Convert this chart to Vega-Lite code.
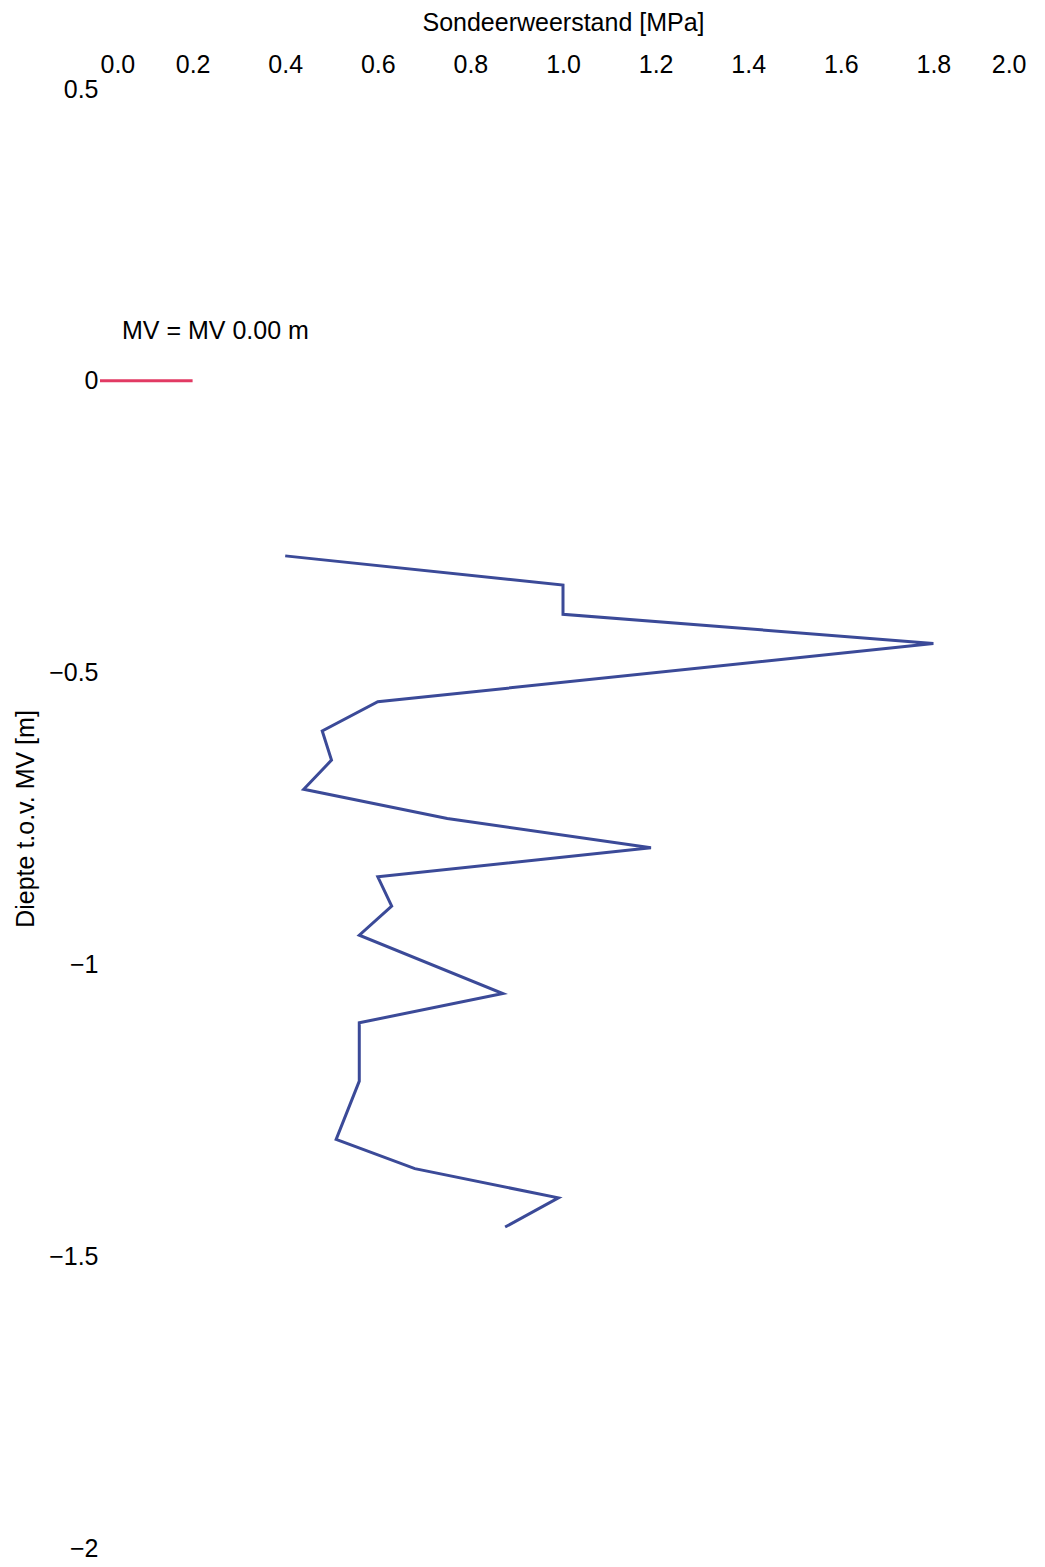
{
  "$schema": "https://vega.github.io/schema/vega-lite/v6.json",
  "width": 926,
  "height": 1459,
  "autosize": {"type": "none"},
  "padding": {"left": 100, "top": 89, "right": 19, "bottom": 19},
  "background": "white",
  "config": {"view": {"stroke": null}, "font": "Liberation Sans"},
  "datasets": {
    "cpt": [
      {"qc": 0.40, "depth": -0.30},
      {"qc": 1.00, "depth": -0.35},
      {"qc": 1.00, "depth": -0.40},
      {"qc": 1.80, "depth": -0.45},
      {"qc": 0.60, "depth": -0.55},
      {"qc": 0.48, "depth": -0.60},
      {"qc": 0.50, "depth": -0.65},
      {"qc": 0.44, "depth": -0.70},
      {"qc": 0.75, "depth": -0.75},
      {"qc": 1.19, "depth": -0.80},
      {"qc": 0.60, "depth": -0.85},
      {"qc": 0.63, "depth": -0.90},
      {"qc": 0.56, "depth": -0.95},
      {"qc": 0.87, "depth": -1.05},
      {"qc": 0.56, "depth": -1.10},
      {"qc": 0.56, "depth": -1.20},
      {"qc": 0.51, "depth": -1.30},
      {"qc": 0.68, "depth": -1.35},
      {"qc": 0.99, "depth": -1.40},
      {"qc": 0.875, "depth": -1.45}
    ],
    "mv": [
      {"qc": 0.0, "depth": 0.0},
      {"qc": 0.2, "depth": 0.0}
    ],
    "mvlabel": [
      {"qc": 0.0, "depth": 0.0, "label": "MV = MV 0.00 m"}
    ]
  },
  "encoding": {
    "x": {
      "field": "qc",
      "type": "quantitative",
      "scale": {"domain": [0, 2], "nice": false, "zero": false},
      "axis": {
        "orient": "top",
        "title": "Sondeerweerstand [MPa]",
        "values": [0, 0.2, 0.4, 0.6, 0.8, 1.0, 1.2, 1.4, 1.6, 1.8, 2.0],
        "format": ".1f",
        "domain": false,
        "ticks": false,
        "tickSize": 0,
        "grid": false,
        "labelFontSize": 25,
        "labelColor": "black",
        "labelPadding": 12,
        "titleFontSize": 25,
        "titleFontWeight": "normal",
        "titleColor": "black",
        "titleX": 463,
        "titleY": -67,
        "titleBaseline": "middle"
      }
    },
    "y": {
      "field": "depth",
      "type": "quantitative",
      "scale": {"domain": [-2, 0.5], "nice": false, "zero": false},
      "axis": {
        "orient": "left",
        "title": "Diepte t.o.v. MV [m]",
        "values": [0.5, 0, -0.5, -1, -1.5, -2],
        "format": "~g",
        "domain": false,
        "ticks": false,
        "tickSize": 0,
        "grid": false,
        "labelFontSize": 25,
        "labelColor": "black",
        "labelPadding": 2,
        "titleFontSize": 25,
        "titleFontWeight": "normal",
        "titleColor": "black",
        "titleX": -75,
        "titleY": 729.5,
        "titleBaseline": "middle"
      }
    }
  },
  "layer": [
    {
      "data": {"name": "mv"},
      "mark": {"type": "line", "color": "#e23a63", "strokeWidth": 3},
      "encoding": {}
    },
    {
      "data": {"name": "mvlabel"},
      "mark": {"type": "text", "align": "left", "baseline": "middle", "dx": 22, "dy": -50, "fontSize": 25, "color": "black"},
      "encoding": {"text": {"field": "label"}}
    },
    {
      "data": {"name": "cpt"},
      "mark": {"type": "line", "color": "#3b4a98", "strokeWidth": 3},
      "encoding": {"order": {"field": "depth", "sort": "descending"}}
    }
  ]
}
